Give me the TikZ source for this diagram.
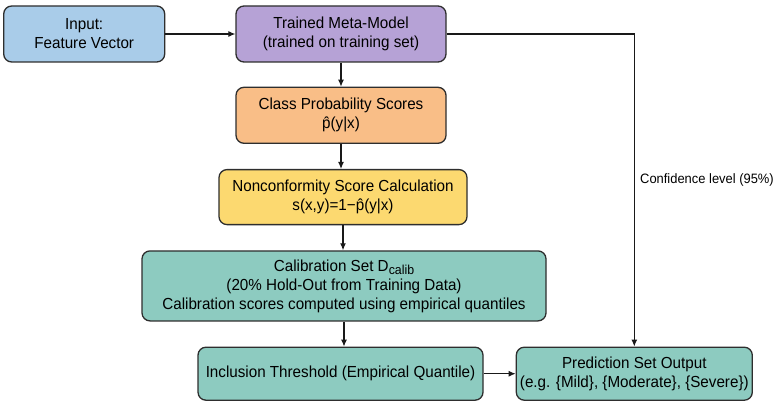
\documentclass[tikz,border=0pt]{standalone}
\usepackage{fontspec}
\setmainfont{Liberation Sans}[FakeStretch=0.95]
\usetikzlibrary{arrows.meta,positioning}

\begin{document}
\begin{tikzpicture}[
  font=\fontsize{16}{19}\selectfont,
  >={Latex[length=7pt,width=6pt]},
  stage/.style={draw=black!82, line width=1.3pt, rounded corners=8pt, align=center, inner sep=2pt},
  flow/.style={->, line width=1.1pt, black!90}
]
\definecolor{inblue}{RGB}{169,204,233}
\definecolor{modelpurple}{RGB}{182,162,214}
\definecolor{proborange}{RGB}{249,190,135}
\definecolor{scoreyellow}{RGB}{252,217,112}
\definecolor{calibteal}{RGB}{141,203,192}

\useasboundingbox (0pt,0pt) rectangle (778pt,-401pt);

\node[stage, fill=modelpurple, minimum width=210pt, minimum height=56pt] (meta) at (341pt,-34pt)
  {Trained Meta-Model\\(trained on training set)};
\node[stage, fill=inblue, minimum width=161pt, minimum height=56pt, left=70pt of meta] (input)
  {Input:\\Feature Vector};
\node[stage, fill=proborange, minimum width=210pt, minimum height=56pt, below=24pt of meta] (probs)
  {Class Probability Scores\\\^{p}(y|x)};
\node[stage, fill=scoreyellow, minimum width=248pt, minimum height=55pt, below=25pt of probs, xshift=2pt] (nonconf)
  {Nonconformity Score Calculation\\s(x,y)=1\char"2212\^{p}(y|x)};
\node[stage, fill=calibteal, minimum width=404pt, minimum height=70pt, below=25pt of nonconf, xshift=1pt] (calib)
  {Calibration Set D\raisebox{-3.5pt}{\fontsize{13}{13}\selectfont calib}\\(20\% Hold-Out from Training Data)\\Calibration scores computed using empirical quantiles};
\node[stage, fill=calibteal, minimum width=285pt, minimum height=53pt, below=25pt of calib, xshift=-3.5pt] (incl)
  {Inclusion Threshold (Empirical Quantile)};
\node[stage, fill=calibteal, minimum width=236pt, minimum height=53pt, right=32pt of incl] (pred)
  {Prediction Set Output\\(e.g. \{Mild\}, \{Moderate\}, \{Severe\})};

\node[anchor=west, inner sep=0pt, font=\fontsize{13.6}{16}\selectfont] (conf) at (640pt,-180pt) {Confidence level (95\%)};

% main chain
\draw[flow] (input) -- (meta);
\draw[flow] (meta) -- (probs);
\draw[flow] (probs) -- (nonconf.north -| probs.south);
\draw[flow] (nonconf.south) -- (calib.north -| nonconf.south);
\draw[flow] (calib.south) -- (incl.north -| calib.south);
\draw[flow] (incl) -- (pred);
% side branch
\draw[flow] (meta.east) -| (pred.north);

\end{tikzpicture}
\end{document}
